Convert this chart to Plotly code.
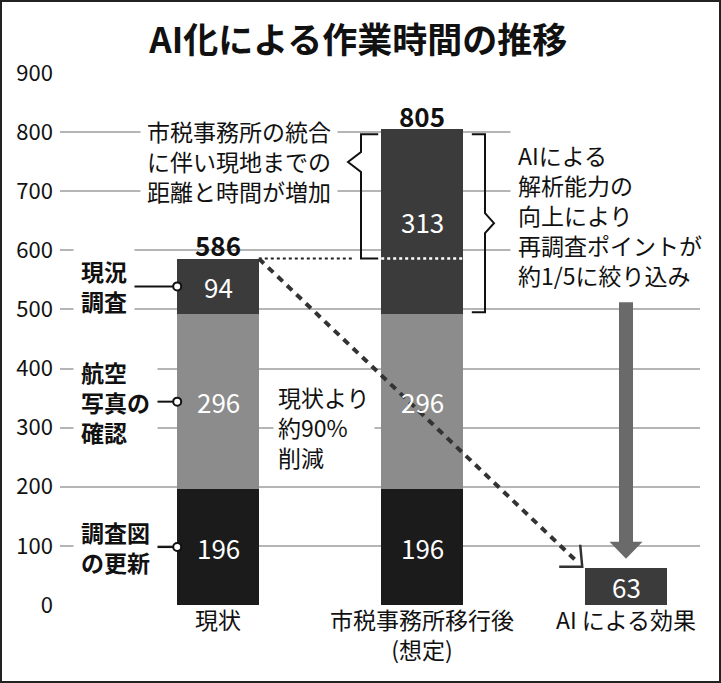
import plotly.graph_objects as go

# ---------------- data ----------------
categories = ["現状", "市税事務所移行後<br>(想定)", "AI による効果"]
map_update = [196, 196]      # 調査図の更新
photo_check = [296, 296]     # 航空写真の確認
field_survey = [94, 313]     # 現況調査
ai_effect = [63]             # AI による効果
y_tick_vals = [0, 100, 200, 300, 400, 500, 600, 700, 800, 900]
segment_labels = ["調査図<br>の更新", "航空<br>写真の<br>確認", "現況<br>調査"]
title_text = "AI化による作業時間の推移"
note_left = "市税事務所の統合<br>に伴い現地までの<br>距離と時間が増加"
note_right = "AIによる<br>解析能力の<br>向上により<br>再調査ポイントが<br>約1/5に絞り込み"
note_mid = "現状より<br>約90%<br>削減"

# ---------------- style / layout ----------------
FONT = "Noto Sans CJK JP"
C_BOTTOM = "#1b1b1b"
C_MID = "#8c8c8c"
C_TOP = "#3b3b3b"
C_ARROW = "#6a6a6a"
GRID = "#b5b5b5"
W, H = 721, 683
ML, MR, MT, MB = 60, 21, 73, 78
PW, PH = W - ML - MR, H - MT - MB
XR = [-0.7745, 2.3627]
YR = [0, 900]
BW = 0.4
xu = PW / (XR[1] - XR[0])   # px per x unit
yu = PH / (YR[1] - YR[0])   # px per y unit


def dx(px):
    return px / xu


def dy(px):
    return px / yu


def xpx(px):  # absolute pixel column -> data x
    return XR[0] + (px - ML) / xu


def ypx(px):  # absolute pixel row -> data y
    return YR[0] + (MT + PH - px) / yu


x_main = [0, 1]
x_ai = [2]

fig = go.Figure()
for vals, col in [(map_update, C_BOTTOM), (photo_check, C_MID), (field_survey, C_TOP)]:
    fig.add_bar(x=x_main, y=vals, width=BW, marker=dict(color=col, line=dict(width=0)),
                hoverinfo="skip")
fig.add_bar(x=x_ai, y=ai_effect, width=BW, marker=dict(color=C_TOP, line=dict(width=0)),
            hoverinfo="skip")

totals = [a + b + c for a, b, c in zip(map_update, photo_check, field_survey)]

annotations = []
shapes = []

# values inside bars
for i, xv in enumerate(x_main):
    base = 0
    for seg in (map_update, photo_check, field_survey):
        v = seg[i]
        annotations.append(dict(x=xv, y=base + v / 2, text=str(v), showarrow=False,
                                font=dict(size=26, color="white", family=FONT)))
        base += v
    annotations.append(dict(x=xv, y=totals[i], yshift=14, text="<b>%d</b>" % totals[i],
                            showarrow=False, yanchor="middle",
                            font=dict(size=26, color="#111", family=FONT)))
for i, xv in enumerate(x_ai):
    annotations.append(dict(x=xv, y=ai_effect[i] / 2, text=str(ai_effect[i]), showarrow=False,
                            font=dict(size=26, color="white", family=FONT)))

# left segment labels with connectors
mids = []
base = 0
for seg in (map_update, photo_check, field_survey):
    mids.append(base + seg[0] / 2)
    base += seg[0]
conn_start_px = [155, 155, 128]
for lab, m, sp in zip(segment_labels, mids, conn_start_px):
    annotations.append(dict(x=xpx(73), y=m, text="<b>" + lab + "</b>", showarrow=False,
                            xanchor="left", align="left", bgcolor="white", borderpad=7,
                            font=dict(size=23, color="#111", family=FONT)))
    fig.add_scatter(x=[xpx(sp), x_main[0] - BW / 2], y=[m, m], mode="lines",
                    line=dict(color="#111", width=2), hoverinfo="skip", showlegend=False)
fig.add_scatter(x=[x_main[0] - BW / 2] * 3, y=mids, mode="markers",
                marker=dict(size=8, color="white", line=dict(color="#111", width=2)),
                hoverinfo="skip", showlegend=False)

# notes
annotations.append(dict(x=xpx(239), y=ypx(161), text=note_left, showarrow=False,
                        align="left", bgcolor="white", borderpad=6,
                        font=dict(size=23, color="#111", family=FONT)))
annotations.append(dict(x=xpx(510), y=ypx(215), text=note_right, showarrow=False,
                        xanchor="left", align="left", bgcolor="white", borderpad=7,
                        font=dict(size=23, color="#111", family=FONT)))
annotations.append(dict(x=xpx(273), y=ypx(427), text=note_mid, showarrow=False,
                        xanchor="left", align="left", bgcolor="white", borderpad=4,
                        font=dict(size=23, color="#111", family=FONT)))

# dotted level line of current total
shapes.append(dict(type="line", x0=x_main[0] + BW / 2, x1=xpx(352), y0=totals[0], y1=totals[0],
                   line=dict(color="#222", width=2, dash="dot"), layer="above"))
shapes.append(dict(type="line", x0=x_main[1] - BW / 2, x1=x_main[1] + BW / 2,
                   y0=totals[0], y1=totals[0],
                   line=dict(color="white", width=2.5, dash="dot"), layer="above"))

# left brace
lb_x_end = x_main[1] - BW / 2 - dx(3)
lb_x_v = xpx(361)
lb_x_pt = xpx(348)
lb_top = totals[1] - dy(5)
lb_bot = totals[0]
lb_pt = ypx(162)
shapes.append(dict(type="path", layer="above",
                   path=f"M{lb_x_end},{lb_top} L{lb_x_v},{lb_top} L{lb_x_v},{lb_pt + dy(10)} "
                        f"L{lb_x_pt},{lb_pt} L{lb_x_v},{lb_pt - dy(10)} L{lb_x_v},{lb_bot} "
                        f"L{lb_x_end},{lb_bot}",
                   line=dict(color="#111", width=2)))

# right brace
rb_x_end = x_main[1] + BW / 2 + dx(9)
rb_x_v = xpx(485)
rb_x_pt = xpx(494)
rb_top = totals[1] - dy(5)
rb_bot = map_update[1] + photo_check[1] + dy(2)
rb_pt = (rb_top + rb_bot) / 2
shapes.append(dict(type="path", layer="above",
                   path=f"M{rb_x_end},{rb_top} L{rb_x_v},{rb_top} L{rb_x_v},{rb_pt + dy(10)} "
                        f"L{rb_x_pt},{rb_pt} L{rb_x_v},{rb_pt - dy(10)} L{rb_x_v},{rb_bot} "
                        f"L{rb_x_end},{rb_bot}",
                   line=dict(color="#111", width=2)))

# gray down arrow toward AI bar
ax = x_ai[0]
a_top = rb_bot + dy(10)
a_head = ai_effect[0] + dy(26)
a_tip = ai_effect[0] + dy(9)
hs, hh = dx(7), dx(16.5)
shapes.append(dict(type="path", layer="above",
                   path=f"M{ax - hs},{a_top} L{ax + hs},{a_top} L{ax + hs},{a_head} "
                        f"L{ax + hh},{a_head} L{ax},{a_tip} L{ax - hh},{a_head} "
                        f"L{ax - hs},{a_head} Z",
                   fillcolor=C_ARROW, line=dict(width=0)))

# dashed diagonal arrow from current total to AI effect
tip_x = x_ai[0] - BW / 2 - dx(3)
tip_y = ai_effect[0] + dy(1)
shapes.append(dict(type="line", layer="above",
                   x0=x_main[0] + BW / 2, y0=totals[0], x1=tip_x - dx(4), y1=tip_y + dy(4),
                   line=dict(color="#333", width=4, dash="7px,6px")))
shapes.append(dict(type="path", layer="above",
                   path=f"M{tip_x - dx(23)},{tip_y} L{tip_x},{tip_y} L{tip_x - dx(2)},{tip_y + dy(22)}",
                   line=dict(color="#333", width=2.5)))

# outer frame
shapes.append(dict(type="rect", xref="paper", yref="paper",
                   x0=(1 - ML) / PW, x1=(W - 1 - ML) / PW,
                   y0=-(MB - 1) / PH, y1=(H - 1 - MB) / PH,
                   line=dict(color="#222", width=2), fillcolor="rgba(0,0,0,0)", layer="above"))

fig.update_layout(
    width=W, height=H, autosize=False,
    margin=dict(l=ML, r=MR, t=MT, b=MB),
    barmode="stack", showlegend=False,
    plot_bgcolor="white", paper_bgcolor="white",
    font=dict(family=FONT, color="#111"),
    title=dict(text="<b>" + title_text + "</b>", x=0.497, xanchor="center",
               y=1 - 41 / H, yanchor="middle", yref="container",
               font=dict(size=35, color="#111", family=FONT)),
    xaxis=dict(range=XR, tickvals=[0, 1, 2], ticktext=categories, showgrid=False,
               zeroline=False, showline=False, ticks="",
               tickfont=dict(size=23, color="#111", family=FONT)),
    yaxis=dict(range=YR, tickvals=y_tick_vals, showgrid=True, gridcolor=GRID, gridwidth=2,
               zeroline=False, showline=False, ticks="", ticklabelstandoff=6,
               tickfont=dict(size=22, color="#111", family=FONT)),
    annotations=annotations, shapes=shapes,
)

fig.write_html("out.html")
